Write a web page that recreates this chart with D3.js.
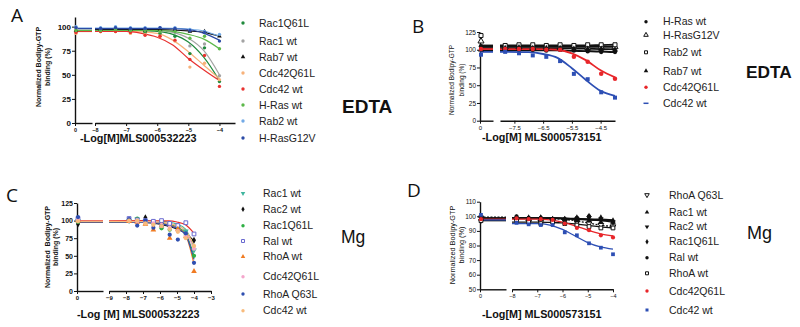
<!DOCTYPE html>
<html>
<head>
<meta charset="utf-8">
<script src="https://cdn.jsdelivr.net/npm/d3@7"></script>
<style>
body { margin: 0; background: #fff; }
svg { display: block; }
text { font-family: "Liberation Sans", Arial, sans-serif; }
</style>
</head>
<body>
<svg id="chart" width="800" height="327"></svg>
<script>
// log10 molar concentrations of the 3-fold dilution series
var doses = [-7.82, -7.34, -6.86, -6.39, -5.91, -5.43, -4.95, -4.48, -4];

// ---- Panel A (EDTA, MLS000532223)
var namesA = ["Rac1Q61L", "Rac1 wt", "Rab7 wt", "Cdc42Q61L", "Cdc42 wt", "H-Ras wt", "Rab2 wt", "H-RasG12V"];
var valuesA = [
    [96, 97, 96, 94, 93, 90, 72, 78, 43],
    [97, 98, 97, 96, 95, 94, 80, 82, 49],
    [97, 98, 97, 96, 97, 97, 95, 95, 90],
    [95, 95, 93, 92, 90, 85, 58, 62, 45],
    [95, 95, 94, 91, 90, 86, 66, 70, 38],
    [96, 97, 96, 96, 95, 95, 88, 90, 77],
    [99, 100, 99, 99, 99, 99, 97, 95, 92],
    [98, 99, 98, 98, 99, 98, 96, 94, 85]
];
var controlsA = [95, 98, 96, 93, 94, 96, 100, 99];
var zeroFitA = [96, 96, 96, 95, 95, 96, 98.5, 98];
var fitXA = [-8, -7, -6.5, -6, -5.5, -5, -4.5, -4];
var fitA = [
    [96, 96, 95.8, 95, 92, 84, 68, 44],
    [96.5, 96.5, 96.3, 96, 94, 88, 75, 50],
    [97, 97, 97, 97, 96.5, 95.5, 94, 90],
    [95, 95, 94.5, 93, 86, 74, 60, 46],
    [95, 95, 93, 89, 81, 67, 55, 44],
    [96, 96, 96, 96, 95, 92, 87, 77],
    [98.5, 98.5, 98.5, 98.5, 98.3, 97.5, 95.5, 90],
    [98, 98, 98, 98, 97.8, 97, 93, 86]
];

// ---- Panel B (EDTA, MLS000573151)
var namesB = ["H-Ras wt", "H-RasG12V", "Rab2 wt", "Rab7 wt", "Cdc42Q61L", "Cdc42 wt"];
var valuesB = [
    [100, 100, 100, 99, 100, 99, 98, 97, 97],
    [104, 104, 103, 104, 103, 104, 103, 104, 104],
    [106, 107, 107, 106, 107, 106, 107, 107, 107],
    [102, 103, 102, 102, 102, 101, 101, 101, 100],
    [101, 101, 101, 100, 100, 90, 83, 66, 59],
    [97, 95, 92, 90, 84, 66, 58.5, 40, 32.5]
];
var controlsB = [105, 112, 120, 100, 101, 93];
var zeroFitB = [99, 104, 106, 102, 101, 97];
var fitXB = [-8, -7, -6.5, -6, -5.5, -5, -4.5, -4];
var fitB = [
    [99, 99, 99, 99, 98.5, 98, 97.5, 96.5],
    [104, 104, 104, 104, 104, 104, 104, 104],
    [106, 106, 106, 106, 106, 106, 106.5, 107],
    [102, 102, 102, 102, 101.8, 101.5, 101, 100.5],
    [101, 101, 101, 100, 95, 85, 71, 61],
    [97, 96.5, 94, 88.5, 74, 57, 42, 35]
];

// ---- Panel C (Mg, MLS000532223)
var namesC = ["Rac1 wt", "Rac2 wt", "Rac1Q61L", "Ral wt", "RhoA wt", "Cdc42Q61L", "RhoA Q63L", "Cdc42 wt"];
var valuesC = [
    [100, 102, 99, 97, 95, 94, 90, 85, 58],
    [101, 100, 104, 97, 96, 92, 90, 79, 72],
    [100, 103, 99, 95, 89, 87, 88, 80, 50],
    [103, 101, 100, 99, 100, 96, 93, 97, 81],
    [99, 98, 95, 87, 93, 75, 88, 78, 28],
    [100, 99, 98, 96, 94, 90, 85, 78, 60],
    [102, 93, 100, 90, 92, 80, 73, 82, 40],
    [100, 100, 96, 94, 92, 88, 84, 75, 64]
];
var controlsC = [100, 95, 98, 103, 100, 101, 105, 99];
var zeroFitC = [99.5, 98, 98.5, 100, 98, 99, 98, 99];
var fitXC = [-9, -7, -6, -5.5, -5, -4.5, -4];
var fitC = [
    [100, 99.5, 99, 98, 95, 88, 62],
    [98, 97.5, 95, 92, 88, 82, 71],
    [98.5, 98, 97, 95, 91, 82, 50],
    [100, 100, 99.5, 99.5, 98, 94, 82],
    [98.5, 98, 96.5, 94, 90, 80, 38],
    [99, 98.5, 98, 96, 93, 85, 58],
    [98, 97.5, 96, 93, 89, 80, 45],
    [99, 98.5, 98, 96, 93, 86, 65]
];

// ---- Panel D (Mg, MLS000573151)
var namesD = ["RhoA Q63L", "Rac1 wt", "Rac2 wt", "Rac1Q61L", "Ral wt", "RhoA wt", "Cdc42Q61L", "Cdc42 wt"];
var valuesD = [
    [98, 96, 96, 97, 97, 96, 95, 94, 93],
    [99, 98, 99, 98, 98, 97, 97, 96, 96],
    [98, 97, 98, 97, 97, 98, 99, 98, 96],
    [99, 99, 99, 98, 98, 99, 100, 99, 97],
    [100, 99, 99, 98, 98, 99, 100, 98, 96],
    [97, 96, 95, 96, 95, 94, 93, 92, 92],
    [98.6, 98, 98, 97.5, 95, 92, 90.5, 87, 85.5],
    [95.5, 94.5, 94, 94, 89, 87, 81.5, 78.5, 74]
];
var controlsD = [99, 98, 97, 100, 99, 97, 98, 101];
var zeroFitD = [99.5, 98.5, 98, 99, 98.5, 97, 98, 97.5];
var fitXD = [-8, -7, -6.5, -6, -5.5, -5, -4.5, -4];
var fitD = [
    [99, 98.8, 98.5, 98, 97, 95.5, 94, 93],
    [99, 99, 98.8, 98.5, 98, 97.5, 97, 96],
    [98.5, 98.5, 98.5, 98.3, 98, 97.8, 97.5, 97],
    [99, 99, 99, 98.8, 98.5, 98.2, 98, 97.5],
    [99, 99, 99, 98.7, 98.3, 97.8, 97.3, 97],
    [96, 96, 95.8, 95.5, 94.8, 93.8, 92.8, 92],
    [98, 98, 97.5, 96, 93.5, 90.5, 88, 86.5],
    [95, 95, 94, 91, 86.5, 82, 79, 77.5]
];

// ---- styles
var colorsA = ["#1f8a3c", "#a3a3a3", "#111111", "#f7b27a", "#e8312f", "#5cb84a", "#72aae6", "#2c4ba6"];
var shapesA = ["circle", "circle", "triangle", "circle", "circle", "circle", "circle", "circle"];
var colorsB = ["#111", "#111", "#111", "#111", "#e8262a", "#2d4fb4"];
var shapesB = ["circle", "otriangle", "osquare", "triangle", "circle", "square"];
var legendShapesB = ["circle", "otriangle", "osquare", "triangle", "circle", "dash"];
var colorsC = ["#3fb59e", "#111", "#2fb044", "#6a6ad0", "#f07b22", "#f4a6cc", "#2f4fb0", "#f8bb7c"];
var lineColorsC = ["#3fb59e", "#111", "#2fb044", "#e8302a", "#f07b22", "#f4a6cc", "#2f4fb0", "#f8bb7c"];
var shapesC = ["tridown", "diamond", "circle", "osquare", "triangle", "circle", "circle", "circle"];
var colorsD = ["#111", "#111", "#111", "#111", "#111", "#111", "#e8262a", "#2d4fb4"];
var shapesD = ["otridown", "triangle", "tridown", "diamond", "circle", "osquare", "circle", "square"];
var dashD = ["2,1.5", null, null, null, null, null, null, null];

var svg = d3.select("#chart");

var symbolPath = function(shape, size) {
    var base = shape.replace(/^o/, "");
    var type = d3.symbolCircle;
    if (base === "square") type = d3.symbolSquare;
    if (base === "triangle" || base === "tridown") type = d3.symbolTriangle;
    if (base === "diamond") type = d3.symbolDiamond;
    return d3.symbol().type(type).size(size)();
};

var addMarker = function(g, shape, color, x, y, size) {
    if (shape === "dash") {
        g.append("line")
            .attr("x1", x - 2.5).attr("x2", x + 2.5)
            .attr("y1", y).attr("y2", y)
            .attr("stroke", color).attr("stroke-width", 1.5);
        return;
    }
    var open = shape.charAt(0) === "o";
    var rot = shape.indexOf("tridown") >= 0 ? " rotate(180)" : "";
    g.append("path")
        .attr("d", symbolPath(shape, size))
        .attr("transform", "translate(" + x + "," + y + ")" + rot)
        .attr("fill", open ? "#fff" : color)
        .attr("stroke", open ? color : "none")
        .attr("stroke-width", 1);
};

var drawPanel = function(p) {
    var g = svg.append("g");
    var y = d3.scaleLinear().domain(p.yDomain).range(p.yRange);
    var x0 = d3.scaleLinear().domain([0, 1]).range(p.seg1);
    var x = d3.scaleLinear().domain(p.xDomain).range(p.seg2);
    var axisY = p.seg1[0];

    // y axis
    var ya = g.append("g")
        .attr("transform", "translate(" + axisY + ",0)")
        .call(d3.axisLeft(y).tickValues(p.yTicks).tickSize(3).tickSizeOuter(0).tickPadding(1));
    ya.selectAll("text").attr("font-size", p.yTickSize).attr("font-weight", p.bold ? "bold" : "normal")
        .attr("font-family", "Liberation Sans, Arial, sans-serif").attr("fill", "#111");

    // x axis, two segments with a break
    var xa0 = g.append("g")
        .attr("transform", "translate(0," + p.yRange[0] + ")")
        .call(d3.axisBottom(x0).tickValues([0]).tickSize(3).tickSizeOuter(0).tickPadding(2)
            .tickFormat(d3.format("d")));
    var xa = g.append("g")
        .attr("transform", "translate(0," + p.yRange[0] + ")")
        .call(d3.axisBottom(x).tickValues(p.xTicks).tickSize(3).tickSizeOuter(0).tickPadding(2)
            .tickFormat(d3.format("")));
    [xa0, xa].forEach(function(a) {
        a.selectAll("text").attr("font-size", p.xTickSize).attr("font-weight", p.bold ? "bold" : "normal")
            .attr("font-family", "Liberation Sans, Arial, sans-serif").attr("fill", "#111");
    });
    [ya, xa0, xa].forEach(function(a) {
        a.select(".domain").attr("stroke", "#111").attr("stroke-width", 1.4);
        a.selectAll(".tick line").attr("stroke", "#111").attr("stroke-width", 1);
    });

    // fitted curves
    var line = d3.line()
        .x(function(d) { return x(d[0]); })
        .y(function(d) { return y(d[1]); })
        .curve(d3.curveMonotoneX);
    p.fits.forEach(function(f, i) {
        var col = p.lineColors ? p.lineColors[i] : p.colors[i];
        var dash = p.dash ? p.dash[i] : null;
        g.append("path")
            .attr("d", line(p.fitX.map(function(v, k) { return [v, f[k]]; })))
            .attr("fill", "none").attr("stroke", col).attr("stroke-width", p.lineWidth)
            .attr("stroke-dasharray", dash);
        g.append("line")
            .attr("x1", x0(0)).attr("x2", x0(1))
            .attr("y1", y(p.zeroFit[i])).attr("y2", y(p.zeroFit[i]))
            .attr("stroke", col).attr("stroke-width", p.lineWidth)
            .attr("stroke-dasharray", dash);
    });

    // data points
    p.values.forEach(function(vals, i) {
        vals.forEach(function(v, k) {
            addMarker(g, p.shapes[i], p.colors[i], x(doses[k]), y(v), p.markerSize);
        });
        addMarker(g, p.shapes[i], p.colors[i], x0(0) + 1, y(p.controls[i]), p.markerSize);
    });

    // y axis title
    g.append("text")
        .attr("transform", "translate(" + p.yTitleX[0] + "," + p.yTitleY + ") rotate(-90)")
        .attr("text-anchor", "middle").attr("font-size", p.yTitleSize)
        .attr("font-weight", p.bold ? "bold" : "normal").attr("fill", "#111")
        .style("white-space", "pre")
        .text(p.yTitle);
    g.append("text")
        .attr("transform", "translate(" + p.yTitleX[1] + "," + p.yTitleY + ") rotate(-90)")
        .attr("text-anchor", "middle").attr("font-size", p.yTitleSize)
        .attr("font-weight", p.bold ? "bold" : "normal").attr("fill", "#111")
        .text("binding (%)");

    // x axis title
    g.append("text")
        .attr("x", p.xTitlePos[0]).attr("y", p.xTitlePos[1])
        .attr("font-size", 10.8).attr("font-weight", "bold").attr("fill", "#111")
        .text(p.xTitle);

    // panel letter
    g.append("text")
        .attr("x", p.letterPos[0]).attr("y", p.letterPos[1])
        .attr("font-size", 19).attr("fill", "#111")
        .style("font-family", "'Open Sans', 'Noto Sans', sans-serif")
        .text(p.letter);

    // legend
    p.names.forEach(function(n, i) {
        var ly = p.legendRows[i];
        addMarker(g, (p.legendShapes || p.shapes)[i], p.colors[i], p.legendX[0], ly, 9);
        g.append("text")
            .attr("x", p.legendX[1]).attr("y", ly + 3.7)
            .attr("font-size", 10.5).attr("fill", "#222")
            .text(n);
    });

    // condition label
    g.append("text")
        .attr("x", p.condPos[0]).attr("y", p.condPos[1])
        .attr("font-size", p.condSize).attr("font-weight", p.condBold ? "bold" : "normal")
        .attr("fill", "#111")
        .text(p.cond);
};

drawPanel({
    letter: "A", letterPos: [11, 21.7],
    yDomain: [0, 110], yRange: [123, 17], yTicks: [0, 25, 50, 75, 100],
    seg1: [75, 92], xDomain: [-8, -3.5], seg2: [95, 235], xTicks: [-8, -7, -6, -5, -4],
    yTickSize: 8, xTickSize: 5.5, bold: true,
    yTitle: "Normalized Bodipy-GTP", yTitleX: [40.5, 50], yTitleY: 67, yTitleSize: 7,
    xTitle: "-Log[M]MLS000532223", xTitlePos: [80, 141.5],
    names: namesA, values: valuesA, controls: controlsA, zeroFit: zeroFitA,
    fitX: fitXA, fits: fitA, colors: colorsA, shapes: shapesA,
    markerSize: 9, lineWidth: 1.2,
    legendX: [243, 259], legendRows: [23, 41, 57, 73, 89, 105, 121, 138],
    cond: "EDTA", condPos: [342, 113], condSize: 19, condBold: true
});

drawPanel({
    letter: "B", letterPos: [412, 33.3],
    yDomain: [0, 125], yRange: [120.7, 32], yTicks: [0, 25, 50, 75, 100, 125],
    seg1: [480, 493], xDomain: [-8, -4], seg2: [500, 615], xTicks: [-7.5, -6.5, -5.5, -4.5],
    yTickSize: 6.5, xTickSize: 6, bold: false,
    yTitle: "Normalized Bodipy-GTP", yTitleX: [454, 464], yTitleY: 80, yTitleSize: 6.5,
    xTitle: "-Log[M] MLS000573151", xTitlePos: [482, 141],
    names: namesB, values: valuesB, controls: controlsB, zeroFit: zeroFitB,
    fitX: fitXB, fits: fitB, colors: colorsB, shapes: shapesB, legendShapes: legendShapesB,
    markerSize: 16, lineWidth: 1.8,
    legendX: [646, 663], legendRows: [21.7, 35, 52.3, 71, 87.3, 103.3],
    cond: "EDTA", condPos: [746, 77.5], condSize: 17.3, condBold: true
});

drawPanel({
    letter: "C", letterPos: [6, 201.7],
    yDomain: [0, 125], yRange: [291, 203], yTicks: [0, 25, 50, 75, 100, 125],
    seg1: [77, 103], xDomain: [-9, -3], seg2: [109, 211], xTicks: [-9, -8, -7, -6, -5, -4, -3],
    yTickSize: 7, xTickSize: 6, bold: true,
    yTitle: "Normalized  Bodipy-GTP", yTitleX: [50, 57.5], yTitleY: 247, yTitleSize: 7,
    xTitle: "-Log [M] MLS000532223", xTitlePos: [77, 317.5],
    names: namesC, values: valuesC, controls: controlsC, zeroFit: zeroFitC,
    fitX: fitXC, fits: fitC, colors: colorsC, lineColors: lineColorsC, shapes: shapesC,
    markerSize: 14, lineWidth: 1.2,
    legendX: [243, 263], legendRows: [193.3, 209.3, 225.7, 241, 256.7, 276.7, 294, 310.7],
    cond: "Mg", condPos: [341, 243.3], condSize: 17.5, condBold: false
});

drawPanel({
    letter: "D", letterPos: [407, 196.7],
    yDomain: [50, 110], yRange: [289.3, 201.7], yTicks: [50, 60, 70, 80, 90, 100, 110],
    seg1: [480, 506], xDomain: [-8, -4], seg2: [512, 613], xTicks: [-8, -7, -6, -5, -4],
    yTickSize: 6.5, xTickSize: 5.5, bold: false,
    yTitle: "Normalized Bodipy-GTP", yTitleX: [454.5, 463.5], yTitleY: 245, yTitleSize: 7.3,
    xTitle: "-Log[M] MLS000573151", xTitlePos: [482, 317.5],
    names: namesD, values: valuesD, controls: controlsD, zeroFit: zeroFitD,
    fitX: fitXD, fits: fitD, colors: colorsD, shapes: shapesD, dash: dashD,
    markerSize: 14, lineWidth: 1.3,
    legendX: [647, 669], legendRows: [195, 212.3, 226.7, 241.7, 257.7, 273.3, 291, 310],
    cond: "Mg", condPos: [747, 239.3], condSize: 18, condBold: false
});
</script>
</body>
</html>
